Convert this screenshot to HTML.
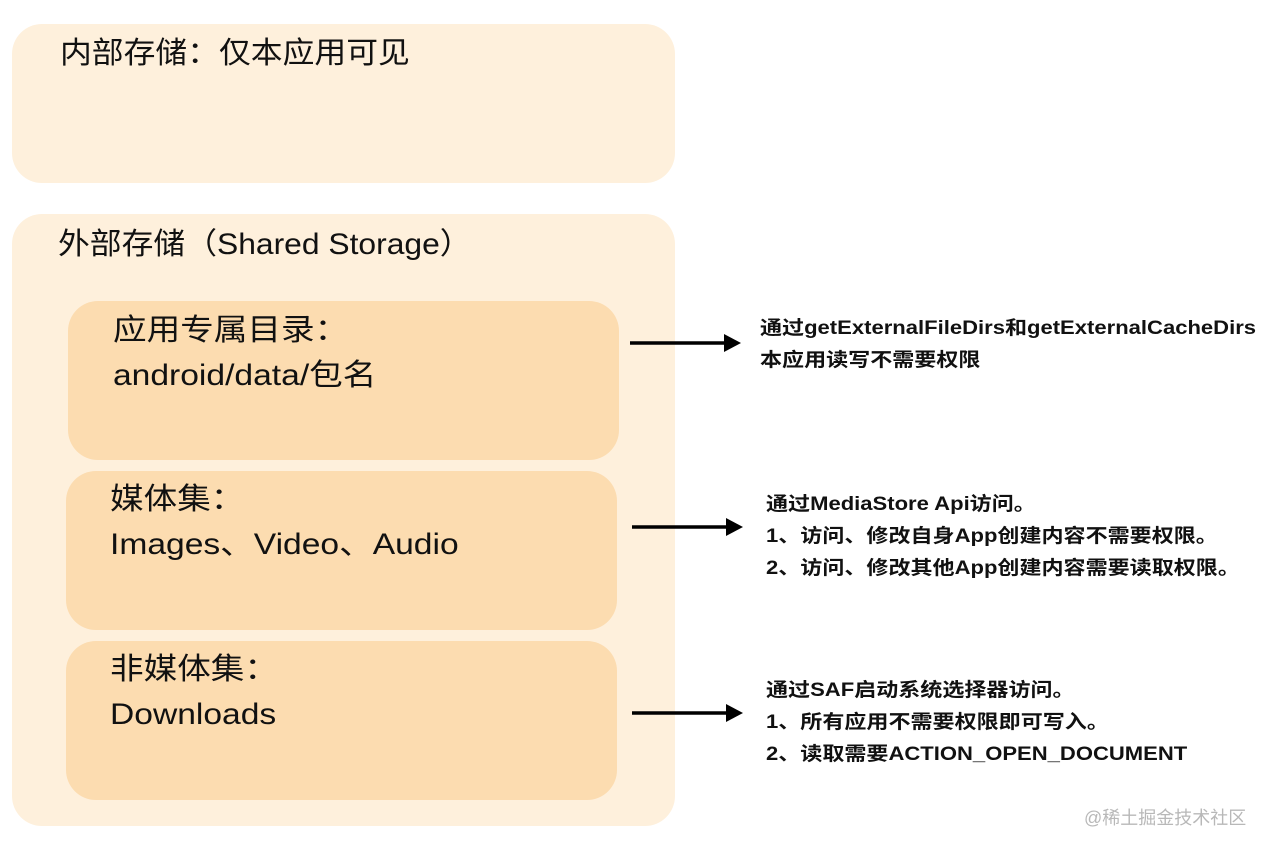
<!DOCTYPE html>
<html><head><meta charset="utf-8"><style>
body{margin:0;width:1268px;height:850px;background:#fff;position:relative;overflow:hidden;font-family:"Liberation Sans","Noto Sans CJK SC",sans-serif;color:#111}
.b{position:absolute;border-radius:30px}
.o{background:#fef0dc}
.i{background:#fcdcb0}
.t{position:absolute;font-size:30px;line-height:45px;white-space:nowrap;transform-origin:0 50%;transform:scaleX(1.06)}
.r{position:absolute;font-size:19px;font-weight:bold;line-height:32px;white-space:nowrap;transform-origin:0 0;transform:scaleX(1.16)}
</style></head><body>
<div class="b o" style="left:12px;top:24px;width:663px;height:159px"></div>
<div class="b o" style="left:12px;top:214px;width:663px;height:612px"></div>
<div class="b i" style="left:68px;top:301px;width:551px;height:159px"></div>
<div class="b i" style="left:66px;top:471px;width:551px;height:159px"></div>
<div class="b i" style="left:66px;top:641px;width:551px;height:159px"></div>
<div class="t" style="left:60px;top:31px">内部存储：仅本应用可见</div>
<div class="t" style="left:58px;top:222px">外部存储（Shared Storage）</div>
<div class="t" style="left:113px;top:308px;transform:scaleX(1.12)">应用专属目录：<br>android/data/包名</div>
<div class="t" style="left:110px;top:477px;transform:scaleX(1.12)">媒体集：<br>Images、Video、Audio</div>
<div class="t" style="left:110px;top:647px;transform:scaleX(1.12)">非媒体集：<br>Downloads</div>
<div class="r" style="left:760px;top:313px">通过getExternalFileDirs和getExternalCacheDirs<br>本应用读写不需要权限</div>
<div class="r" style="left:766px;top:489px">通过MediaStore Api访问。<br>1、访问、修改自身App创建内容不需要权限。<br>2、访问、修改其他App创建内容需要读取权限。</div>
<div class="r" style="left:766px;top:675px">通过SAF启动系统选择器访问。<br>1、所有应用不需要权限即可写入。<br>2、读取需要ACTION_OPEN_DOCUMENT</div>
<div style="position:absolute;left:1084px;top:804px;font-size:18px;color:#b8b8b8">@稀土掘金技术社区</div>
<svg width="1268" height="850" style="position:absolute;left:0;top:0">
<g stroke="#000" stroke-width="3.5"><line x1="630" y1="343" x2="726" y2="343"/><line x1="632" y1="527" x2="728" y2="527"/><line x1="632" y1="713" x2="728" y2="713"/></g>
<polygon points="724,334 741,343 724,352"/><polygon points="726,518 743,527 726,536"/><polygon points="726,704 743,713 726,722"/>
</svg>
</body></html>
